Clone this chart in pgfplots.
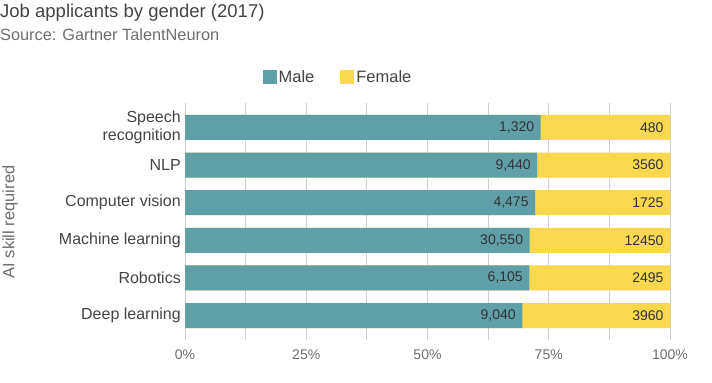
\documentclass[border=0pt]{standalone}
\usepackage{pgfplots}
\usepackage{pgfplotstable}
\pgfplotsset{compat=1.18}
\usepackage{fontspec}
\setmainfont{Liberation Sans}
\definecolor{male}{HTML}{5FA0A7}
\definecolor{female}{HTML}{F9D84F}
\definecolor{txt}{HTML}{444444}
\definecolor{subtxt}{HTML}{6E6E6E}
\definecolor{gridc}{HTML}{D0D0D0}

% i: category index (0 = top); m: male share in percent; t: total (100 percent)
% ml/fl: counts shown in the bars
\pgfplotstableread{
i m      t   ml     fl
0 73.333 100 1,320  480
1 72.615 100 9,440  3560
2 72.177 100 4,475  1725
3 71.047 100 30,550 12450
4 70.988 100 6,105  2495
5 69.538 100 9,040  3960
}\data

\begin{document}
\begin{tikzpicture}
\useasboundingbox (0,0) rectangle (712bp,-383bp);
\node[anchor=north west, inner sep=0pt, text=txt, font=\fontsize{18.5bp}{21bp}\selectfont] at (0bp,-4bp) {Job applicants by gender (2017)};
\node[anchor=north west, inner sep=0pt, text=subtxt, font=\fontsize{16.3bp}{19bp}\selectfont] at (0bp,-28bp) {Source: Gartner TalentNeuron};
\node[rotate=90, inner sep=0pt, text=subtxt, font=\fontsize{16.5bp}{19bp}\selectfont] at (10bp,-222bp) {AI skill required};

\begin{axis}[
  at={(185bp,-340bp)}, anchor=south west,
  scale only axis, width=485bp, height=237bp,
  xbar, bar width=25bp, bar shift=0pt,
  xmin=0, xmax=100, ymin=-0.65, ymax=5.65, y dir=reverse,
  ytick={0,...,5},
  yticklabels={{Speech\\recognition},NLP,Computer vision,Machine learning,Robotics,Deep learning},
  yticklabel style={align=right, text=txt, font=\fontsize{16bp}{18bp}\selectfont, inner sep=0pt, xshift=-4bp},
  xtick={0,25,50,75,100},
  xticklabels={0\%,25\%,50\%,75\%,100\%},
  xticklabel style={text=subtxt, font=\fontsize{14bp}{16bp}\selectfont, yshift=-6bp},
  minor xtick={12.5,37.5,62.5,87.5},
  xmajorgrids, xminorgrids,
  major grid style={gridc, line width=0.8bp},
  minor grid style={gridc, line width=0.8bp},
  extra x ticks={0}, extra x tick labels={},
  extra x tick style={grid style={draw=gray!75!black, line width=1bp}},
  axis line style={draw=none},
  major tick length=0pt, minor tick length=0pt,
  /pgf/number format/assume math mode=true,
  legend columns=2, reverse legend,
  legend style={at={(0.3155,1.11)}, anchor=center, draw=none, fill=none,
    font=\fontsize{16.5bp}{19bp}\selectfont, text=txt,
    nodes={inner xsep=2bp},
    /tikz/every even column/.append style={column sep=24bp}},
  legend image code/.code={\fill[#1] (0bp,-7bp) rectangle (14bp,7bp);},
  point meta=explicit symbolic,
  nodes near coords,
  nodes near coords style={anchor=east, xshift=-3bp, text=black!80, font=\fontsize{14bp}{16bp}\selectfont},
]
\addplot[fill=female, draw=none] table[x=t, y=i, meta=fl] {\data};
\addplot[fill=male, draw=none] table[x=m, y=i, meta=ml] {\data};
\legend{Female, Male}
\end{axis}
\end{tikzpicture}
\end{document}
